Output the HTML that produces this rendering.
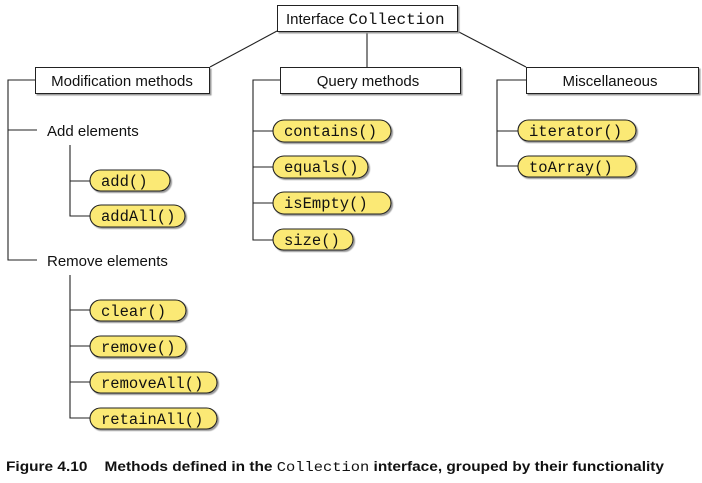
<!DOCTYPE html>
<html><head><meta charset="utf-8"><style>
html,body{margin:0;padding:0;background:#fff;width:702px;height:483px;overflow:hidden}
</style></head><body>
<svg width="702" height="483" viewBox="0 0 702 483" xmlns="http://www.w3.org/2000/svg">
<defs>
<filter id="s" x="-10%" y="-10%" width="130%" height="140%"><feDropShadow dx="1.5" dy="1.5" stdDeviation="0.5" flood-color="#999"/></filter>
</defs>
<g stroke="#222" stroke-width="1.1" fill="none">
<line x1="277" y1="31" x2="210" y2="67"/>
<line x1="367" y1="31" x2="367" y2="67"/>
<line x1="457" y1="31" x2="526" y2="67"/>
<polyline points="35,80 8,80 8,260 37,260"/>
<line x1="8" y1="130" x2="37" y2="130"/>
<polyline points="70,145 70,216 90,216"/>
<line x1="70" y1="181" x2="90" y2="181"/>
<polyline points="70,275 70,418 90,418"/>
<line x1="70" y1="310" x2="90" y2="310"/>
<line x1="70" y1="346" x2="90" y2="346"/>
<line x1="70" y1="382" x2="90" y2="382"/>
<polyline points="280,80 253,80 253,240 273,240"/>
<line x1="253" y1="131" x2="273" y2="131"/>
<line x1="253" y1="167" x2="273" y2="167"/>
<line x1="253" y1="203" x2="273" y2="203"/>
<polyline points="526,80 497,80 497,166 518,166"/>
<line x1="497" y1="131" x2="518" y2="131"/>
</g>
<g fill="#fff" stroke="#222" stroke-width="1" filter="url(#s)">
<rect x="277.5" y="5.5" width="180" height="26"/>
<rect x="35.5" y="67.5" width="174" height="26"/>
<rect x="280.5" y="67.5" width="180" height="26"/>
<rect x="526.5" y="67.5" width="172" height="26"/>
</g>
<g fill="#fbe974" stroke="#222" stroke-width="1.1" filter="url(#s)">
<rect x="90" y="170" width="80" height="21" rx="10.5"/>
<rect x="90" y="205" width="95" height="22" rx="11"/>
<rect x="90" y="300" width="96" height="21" rx="10.5"/>
<rect x="90" y="336" width="96" height="21" rx="10.5"/>
<rect x="90" y="372" width="127" height="21" rx="10.5"/>
<rect x="90" y="408" width="127" height="21" rx="10.5"/>
<rect x="273" y="120" width="118" height="22" rx="11"/>
<rect x="273" y="156" width="95" height="22" rx="11"/>
<rect x="273" y="192" width="118" height="22" rx="11"/>
<rect x="273" y="229" width="80" height="21" rx="10.5"/>
<rect x="518" y="120" width="118" height="21" rx="10.5"/>
<rect x="518" y="156" width="118" height="21" rx="10.5"/>
</g>
<g font-family="Liberation Sans, sans-serif" font-size="15" fill="#111">
<text x="286" y="24">Interface <tspan font-family="Liberation Mono, monospace" font-size="16">Collection</tspan></text>
<text x="122" y="86" text-anchor="middle">Modification methods</text>
<text x="368" y="86" text-anchor="middle">Query methods</text>
<text x="610" y="86" text-anchor="middle">Miscellaneous</text>
<text x="47" y="136">Add elements</text>
<text x="47" y="266">Remove elements</text>
</g>
<g font-family="Liberation Mono, monospace" font-size="15.5" fill="#111">
<text x="101" y="186">add()</text>
<text x="101" y="221">addAll()</text>
<text x="101" y="316">clear()</text>
<text x="101" y="352">remove()</text>
<text x="101" y="388">removeAll()</text>
<text x="101" y="424">retainAll()</text>
<text x="284" y="136">contains()</text>
<text x="284" y="172">equals()</text>
<text x="284" y="208">isEmpty()</text>
<text x="284" y="245">size()</text>
<text x="529" y="136">iterator()</text>
<text x="529" y="172">toArray()</text>
</g>
<text x="6" y="471" font-family="Liberation Sans, sans-serif" font-weight="bold" font-size="13.5" fill="#111" textLength="658" lengthAdjust="spacingAndGlyphs">Figure 4.10&#160;&#160;&#160; Methods defined in the <tspan font-family="Liberation Mono, monospace" font-weight="normal">Collection</tspan> interface, grouped by their functionality</text>
</svg>
</body></html>
